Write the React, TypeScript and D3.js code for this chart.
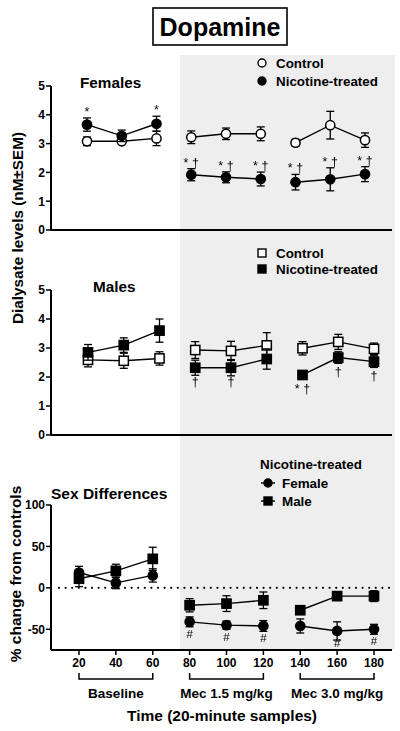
import React from "react";
import * as d3 from "d3";

// ---------- data ----------
const times = [20, 40, 60, 80, 100, 120, 140, 160, 180];
const groupIdx = [[0, 1, 2], [3, 4, 5], [6, 7, 8]];

const femCtrl = [3.08, 3.08, 3.18, 3.22, 3.34, 3.34, 3.03, 3.64, 3.12];
const femCtrlSem = [0.15, 0.07, 0.25, 0.22, 0.2, 0.24, 0.12, 0.48, 0.25];
const femNic = [3.66, 3.27, 3.69, 1.92, 1.83, 1.77, 1.66, 1.76, 1.94];
const femNicSem = [0.23, 0.2, 0.26, 0.21, 0.19, 0.24, 0.27, 0.4, 0.26];
const femAnnot = ["*", "", "*", "* †", "* †", "* †", "* †", "* †", "* †"];

const maleCtrl = [2.59, 2.56, 2.64, 2.93, 2.9, 3.09, 2.99, 3.21, 2.97];
const maleCtrlSem = [0.24, 0.26, 0.23, 0.29, 0.33, 0.44, 0.23, 0.26, 0.2];
const maleNic = [2.85, 3.1, 3.6, 2.32, 2.32, 2.62, 2.07, 2.67, 2.53];
const maleNicSem = [0.27, 0.25, 0.4, 0.26, 0.28, 0.35, 0.1, 0.2, 0.2];
const maleAnnot = ["", "", "", "†", "†", "", "* †", "†", "†"];

const sexFemale = [18.5, 6, 15, -41, -45, -46, -46, -52, -50];
const sexFemaleSem = [7.5, 7, 8, 6, 5, 6.5, 8.5, 11, 6];
const sexMale = [11, 20.5, 35, -21, -19, -15, -27, -10, -10];
const sexMaleSem = [9.5, 8, 14, 8, 9.5, 10, 3, 5, 6.5];
const sexAnnot = ["", "", "", "#", "#", "#", "", "#", "#"];

const levelTicks = [0, 1, 2, 3, 4, 5];
const pctTicks = [-50, 0, 50, 100];
const phaseLabels = ["Baseline", "Mec 1.5 mg/kg", "Mec 3.0 mg/kg"];

// ---------- style ----------
const FONT = "'Liberation Sans', Arial, Helvetica, sans-serif";
const GREY = "#eeeeee";

type Scale = d3.ScaleLinear<number, number>;

function Series({ x, y, vals, sems, shape, filled }: {
  x: Scale; y: Scale; vals: number[]; sems: number[]; shape: "circle" | "square"; filled: boolean;
}) {
  const line = d3.line<number>().x((i) => x(times[i])).y((i) => y(vals[i]));
  return (
    <g>
      {groupIdx.map((g, k) => (
        <path key={"l" + k} d={line(g) || ""} fill="none" stroke="#000" strokeWidth={1.4} />
      ))}
      {vals.map((v, i) => {
        const cx = x(times[i]);
        const top = y(v + sems[i]);
        const bot = y(v - sems[i]);
        return (
          <g key={"e" + i} stroke="#000" strokeWidth={1.3}>
            <line x1={cx} x2={cx} y1={top} y2={bot} />
            <line x1={cx - 4} x2={cx + 4} y1={top} y2={top} />
            <line x1={cx - 4} x2={cx + 4} y1={bot} y2={bot} />
          </g>
        );
      })}
      {vals.map((v, i) => {
        const cx = x(times[i]);
        const cy = y(v);
        return shape === "circle" ? (
          <circle key={"m" + i} cx={cx} cy={cy} r={4.6} fill={filled ? "#000" : "#fff"} stroke="#000" strokeWidth={1.5} />
        ) : (
          <rect key={"m" + i} x={cx - 4.6} y={cy - 4.6} width={9.2} height={9.2} fill={filled ? "#000" : "#fff"} stroke="#000" strokeWidth={1.5} />
        );
      })}
    </g>
  );
}

function YAxis({ y, ticks, x0 }: { y: Scale; ticks: number[]; x0: number }) {
  const [r0, r1] = y.range();
  return (
    <g>
      <line x1={x0} x2={x0} y1={r0} y2={r1} stroke="#000" strokeWidth={2} />
      {ticks.map((t) => (
        <g key={t}>
          <line x1={x0 - 5} x2={x0} y1={y(t)} y2={y(t)} stroke="#000" strokeWidth={1.5} />
          <text x={x0 - 6} y={y(t)} dy="0.36em" textAnchor="end" fontSize={12} fontWeight="bold" fontFamily={FONT}>{t}</text>
        </g>
      ))}
    </g>
  );
}

function LegendItem({ x, y, label, shape, filled, lineHalf }: {
  x: number; y: number; label: string; shape: "circle" | "square"; filled: boolean; lineHalf: number;
}) {
  return (
    <g>
      <line x1={x - lineHalf} x2={x + lineHalf} y1={y} y2={y} stroke="#000" strokeWidth={1.4} />
      {shape === "circle" ? (
        <circle cx={x} cy={y} r={4} fill={filled ? "#000" : "#fff"} stroke="#000" strokeWidth={1.4} />
      ) : (
        <rect x={x - 4} y={y - 4} width={8} height={8} fill={filled ? "#000" : "#fff"} stroke="#000" strokeWidth={1.4} />
      )}
      <text x={x + 14} y={y} dy="0.36em" fontSize={13.4} fontWeight="bold" fontFamily={FONT}>{label}</text>
    </g>
  );
}

export default function App() {
  const x1 = d3.scaleLinear().domain([20, 180]).range([87, 365]);
  const y1 = d3.scaleLinear().domain([0, 5]).range([230, 86]);
  const x2 = d3.scaleLinear().domain([20, 180]).range([88, 374]);
  const y2 = d3.scaleLinear().domain([0, 5]).range([435, 290]);
  const x3 = d3.scaleLinear().domain([20, 180]).range([79, 374]);
  const y3 = d3.scaleLinear().domain([-75, 100]).range([650, 505]);

  const axisL = 51;
  const axisR = 392;
  const annotStyle = { filter: "url(#gray)" };

  return (
    <svg width={400} height={731} style={{ position: "absolute", left: 0, top: 0, background: "#fff" }}>
      <defs>
        <filter id="gray" x="-20%" y="-20%" width="140%" height="140%">
          <feColorMatrix type="saturate" values="0" />
        </filter>
      </defs>
      <rect x={0} y={0} width={400} height={731} fill="#fff" />
      {/* shaded drug period */}
      <rect x={180} y={55} width={215} height={595} fill={GREY} />

      {/* title */}
      <rect x={153} y={8} width={134} height={37} fill="#fff" stroke="#000" strokeWidth={1.6} />
      <text x={220} y={36} textAnchor="middle" fontSize={25} fontWeight="bold" fontFamily={FONT}>Dopamine</text>

      {/* y labels */}
      <text transform="translate(17,228) rotate(-90)" dy="0.36em" textAnchor="middle" fontSize={15.3} fontWeight="bold" fontFamily={FONT}>Dialysate levels (nM±SEM)</text>
      <text transform="translate(15,574) rotate(-90)" dy="0.36em" textAnchor="middle" fontSize={15.5} fontWeight="bold" fontFamily={FONT}>% change from controls</text>

      {/* ---- Panel 1: Females ---- */}
      <text x={80} y={88} fontSize={15.3} fontWeight="bold" fontFamily={FONT}>Females</text>
      <LegendItem x={262} y={63} label="Control" shape="circle" filled={false} lineHalf={4} />
      <LegendItem x={262} y={81} label="Nicotine-treated" shape="circle" filled={true} lineHalf={4} />
      <line x1={axisL} x2={axisR} y1={y1(0)} y2={y1(0)} stroke="#000" strokeWidth={2} />
      <YAxis y={y1} ticks={levelTicks} x0={axisL} />
      <Series x={x1} y={y1} vals={femCtrl} sems={femCtrlSem} shape="circle" filled={false} />
      <Series x={x1} y={y1} vals={femNic} sems={femNicSem} shape="circle" filled={true} />
      <g style={annotStyle}>
        {femAnnot.map((a, i) => a ? (
          <text key={"fa" + i} x={x1(times[i])} y={y1(femNic[i] + femNicSem[i]) - 2} textAnchor="middle" fontSize={12.5} fill="#000" fontFamily={FONT}>{a}</text>
        ) : null)}
      </g>

      {/* ---- Panel 2: Males ---- */}
      <text x={93} y={292} fontSize={15.3} fontWeight="bold" fontFamily={FONT}>Males</text>
      <LegendItem x={262} y={253} label="Control" shape="square" filled={false} lineHalf={4} />
      <LegendItem x={262} y={269} label="Nicotine-treated" shape="square" filled={true} lineHalf={4} />
      <line x1={axisL} x2={axisR} y1={y2(0)} y2={y2(0)} stroke="#000" strokeWidth={2} />
      <YAxis y={y2} ticks={levelTicks} x0={axisL} />
      <Series x={x2} y={y2} vals={maleCtrl} sems={maleCtrlSem} shape="square" filled={false} />
      <Series x={x2} y={y2} vals={maleNic} sems={maleNicSem} shape="square" filled={true} />
      <g style={annotStyle}>
        {maleAnnot.map((a, i) => a ? (
          <text key={"ma" + i} x={x2(times[i])} y={y2(maleNic[i]) + 18} textAnchor="middle" fontSize={12.5} fill="#000" fontFamily={FONT}>{a}</text>
        ) : null)}
      </g>

      {/* ---- Panel 3: Sex differences ---- */}
      <text x={51} y={499} fontSize={15.5} fontWeight="bold" fontFamily={FONT}>Sex Differences</text>
      <text x={260} y={469} fontSize={13.4} fontWeight="bold" fontFamily={FONT}>Nicotine-treated</text>
      <LegendItem x={268} y={483} label="Female" shape="circle" filled={true} lineHalf={7} />
      <LegendItem x={268} y={501} label="Male" shape="square" filled={true} lineHalf={7} />
      <line x1={59} x2={390} y1={y3(0)} y2={y3(0)} stroke="#000" strokeWidth={2.2} strokeDasharray="0,6.6" strokeLinecap="round" />
      <line x1={axisL} x2={axisR} y1={y3(-75)} y2={y3(-75)} stroke="#000" strokeWidth={2} />
      <YAxis y={y3} ticks={pctTicks} x0={axisL} />
      {times.map((t) => (
        <g key={"xt" + t}>
          <line x1={x3(t)} x2={x3(t)} y1={y3(-75)} y2={y3(-75) + 5} stroke="#000" strokeWidth={1.5} />
          <text x={x3(t)} y={667} textAnchor="middle" fontSize={12} fontWeight="bold" fontFamily={FONT}>{t}</text>
        </g>
      ))}
      <Series x={x3} y={y3} vals={sexMale} sems={sexMaleSem} shape="square" filled={true} />
      <Series x={x3} y={y3} vals={sexFemale} sems={sexFemaleSem} shape="circle" filled={true} />
      <g style={annotStyle}>
        {sexAnnot.map((a, i) => a ? (
          <text key={"sa" + i} x={x3(times[i])} y={y3(sexFemale[i]) + 16} textAnchor="middle" fontSize={11.5} fill="#000" fontFamily={FONT}>{a}</text>
        ) : null)}
      </g>

      {/* phase brackets */}
      {groupIdx.map((g, k) => {
        const a = x3(times[g[0]]);
        const b = x3(times[g[2]]);
        return (
          <g key={"br" + k}>
            <path d={`M${a},673 V679 H${b} V673`} fill="none" stroke="#000" strokeWidth={1.5} />
            <text x={(a + b) / 2} y={698} textAnchor="middle" fontSize={13.5} fontWeight="bold" fontFamily={FONT}>{phaseLabels[k]}</text>
          </g>
        );
      })}
      <text x={222} y={721} textAnchor="middle" fontSize={15.5} fontWeight="bold" fontFamily={FONT}>Time (20-minute samples)</text>
    </svg>
  );
}
